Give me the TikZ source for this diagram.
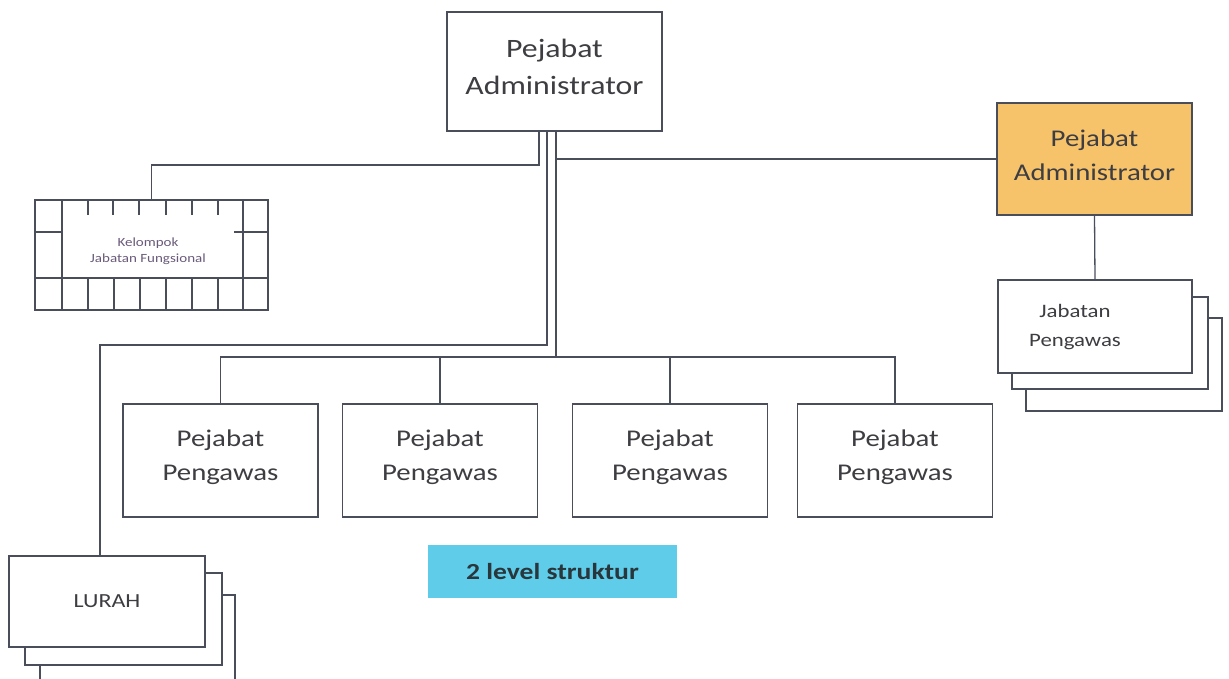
\documentclass[tikz,border=0pt]{standalone}
\usepackage{fontspec}
\setmainfont{Carlito}[FakeStretch=1.2]
\usetikzlibrary{calc}
\definecolor{ln}{HTML}{4A4E5A}
\definecolor{tx}{HTML}{3D3D42}
\definecolor{orng}{HTML}{F6C36B}
\definecolor{teal}{HTML}{5FCDE9}
\definecolor{kelt}{HTML}{6A5A7A}
\tikzset{
  box/.style={draw=ln, line width=1.3pt, fill=white, inner sep=0pt, align=center, text=tx},
  boxtext/.style={text=tx, align=center, inner sep=0pt},
  conn/.style={draw=ln, line width=1.3pt},
  backbox/.style={draw=ln, line width=1.3pt, fill=white},
}
\begin{document}
\begin{tikzpicture}[x=1pt,y=-1pt]
\useasboundingbox (0,0) rectangle (1229,679);

% top
\node[box, minimum width=215pt, minimum height=119pt] (top) at (554.5,71.5) {};
\node[boxtext, font=\fontsize{26.5}{37}\selectfont] (topt) at (554.5,66.5) {Pejabat\\Administrator};

% orange
\node[box, fill=orng, minimum width=195pt, minimum height=112pt] (orange) at (1094.5,159) {};
\node[boxtext, font=\fontsize{24}{34}\selectfont] (oranget) at (1094.5,155) {Pejabat\\Administrator};

% Jabatan Pengawas stack
\path[backbox] (1026,318) rectangle (1222,411);
\path[backbox] (1012,297) rectangle (1208,389);
\node[box, minimum width=194pt, minimum height=93pt] (jab) at (1095,326.5) {};
\node[boxtext, font=\fontsize{19}{29}\selectfont] (jabt) at (1075,327.5) {Jabatan\\Pengawas};

% LURAH stack
\path[backbox] (40,595) rectangle (235,695);
\path[backbox] (25,573) rectangle (222,665);
\node[box, minimum width=196pt, minimum height=91pt,
  font=\fontsize{20}{24}\selectfont] (lurah) at (107,601.5) {LURAH};

% Pengawas
\foreach \n/\cx in {p1/220.5, p2/440, p3/670, p4/895} {
  \node[box, minimum width=195pt, minimum height=113pt] (\n) at (\cx,460.5) {};
  \node[boxtext, font=\fontsize{24}{34}\selectfont] (\n t) at (\cx,457.5) {Pejabat\\Pengawas};
}

% Kelompok Jabatan Fungsional
\node[box, minimum width=233pt, minimum height=110pt] (kel) at (151.5,255) {};
\node[boxtext, text=kelt, font=\fontsize{12.5}{16}\selectfont] (kelt) at (148,251) {Kelompok\\Jabatan Fungsional};
\begin{scope}[ln, line width=1.3pt]
  \draw (35,278) -- (268,278);
  \foreach \x in {62,88,114,140,166,192,218,243} \draw (\x,278) -- (\x,310);
  \draw (62,200) -- (62,278);
  \draw (243,200) -- (243,278);
  \draw (35,232) -- (62,232);
  \draw (234,232) -- (268,232);
  \foreach \x in {88,113,139,166,192,218} \draw (\x,200) -- (\x,215);
\end{scope}

% label
\node[fill=teal, minimum width=249pt, minimum height=53pt, inner sep=0pt,
  text=tx!80!teal!60!black, font=\bfseries\fontsize{23}{28}\selectfont] (lbl) at (552.5,571.5) {2 level struktur};

% connectors
\coordinate (j1) at (151.5,165);
\coordinate (j2) at (100,345);
\coordinate (bus) at (556,357);
\draw[conn] ([xshift=-15.5pt]top.south) |- (j1) -- (kel.north);
\draw[conn] ([xshift=-7.5pt]top.south) |- (j2) -- (j2 |- lurah.north);
\draw[conn] ([xshift=1.5pt]top.south) -- (bus);
\draw[conn] ([xshift=1.5pt]top.south |- orange.west) -- (orange.west);
\draw[conn] (p1.north) |- (p4.north |- bus) -- (p4.north);
\draw[conn] (p2.north) -- (p2.north |- bus);
\draw[conn] (p3.north) -- (p3.north |- bus);
\draw[conn] (orange.south) -- (jab.north);
\end{tikzpicture}
\end{document}
